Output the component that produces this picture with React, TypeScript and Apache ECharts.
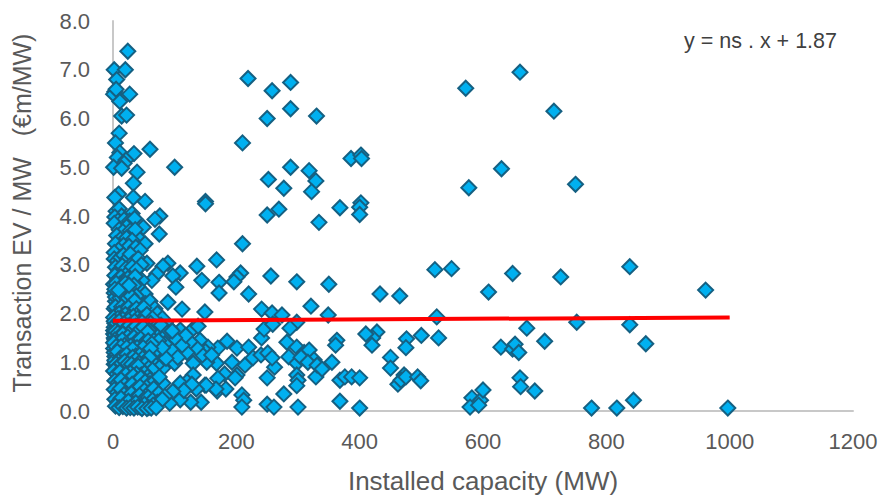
import React, { useEffect, useRef } from "react";
import * as echarts from "echarts";

const xTitle = "Installed capacity (MW)";
const yTitle = "Transaction EV / MW   (€m/MW)";
const equation = "y = ns . x + 1.87";
const trend = [[0, 1.85], [1000, 1.92]];

const highLeft = [
  [24,7.38],[2,7.0],[20,7.0],[6,6.8],[3,6.55],[1,6.5],[27,6.5],[5,6.6],[11,6.35],[14,6.05],[22,6.07],[10,5.7],[4,5.5],[60,5.37],[34,5.28],[11,5.3],[7,5.2],[21,5.15],[18,5.08],[1,5.0],[14,4.98],[100,5.0],[39,4.9],[33,4.67],[9,4.45],[3,4.38],[33,4.38],[52,4.3],[150,4.3],[150,4.25],
  [31,4.05],[49,3.77],[76,4.0],[68,3.93],[75,3.63],[41,3.55],[52,3.43],[5,4.1],[10,4.15],[14,4.0],[3,3.98],[8,3.9],[13,3.85],[18,3.92],[2,3.85],[27,3.9],[35,3.95],[22,3.78],[10,3.72],[16,3.68],[28,3.7],[36,3.72],[6,3.6],[12,3.52],[22,3.55],[31,3.5],[4,3.43],[17,3.4],[26,3.38],[37,3.36],[44,3.3],[9,3.3],[2,3.25]
];

const highField = [
  [219,6.82],[288,6.74],[258,6.57],[288,6.2],[250,6.0],[330,6.05],[210,5.5],[572,6.62],[660,6.95],[715,6.15],[288,5.0],[252,4.75],[277,4.57],[318,4.93],[329,4.72],[322,4.5],[386,5.18],[402,5.25],[403,5.18],[577,4.58],[630,4.97],[750,4.65],[368,4.17],[402,4.27],[400,4.18],[400,4.03],[334,3.87],[269,4.14],[250,4.02],[210,3.43]
];

const midField = [
  [168,3.1],[136,2.97],[89,3.03],[81,2.97],[109,2.83],[97,2.77],[144,2.68],[172,2.64],[207,2.83],[201,2.75],[196,2.65],[256,2.77],[298,2.65],[350,2.6],[102,2.54],[172,2.42],[220,2.4],[89,2.23],[112,2.09],[149,2.03],[241,2.09],[258,2.01],[274,1.97],[433,2.4],[465,2.36],[522,2.9],[549,2.92],[609,2.44],[648,2.82],[726,2.75],[838,2.96],[961,2.48],[752,1.82],[838,1.77],[864,1.38],[525,1.93],[528,1.5],[500,1.55],[476,1.48],[475,1.3],[428,1.62],[421,1.5],[420,1.35],[410,1.58],[363,1.45],[361,1.35],[355,1.0],[321,2.15],[349,1.97],[298,1.82],[629,1.31],[648,1.27],[652,1.37],[658,1.2],[671,1.7],[700,1.43],[450,1.1],[450,0.88],
  [185,1.43],[201,1.29],[220,1.31],[214,0.94],[227,1.09],[240,1.15],[251,1.19],[262,0.9],[258,1.09],[282,1.41],[298,1.31],[285,1.11],[298,0.98],[241,1.5],[245,1.68],[259,1.78],[287,1.7],[170,1.29],[154,1.31],[141,1.45],[128,1.66],[138,1.74],[109,1.66],[193,1.0],[168,0.98],[152,1.0],[130,0.98],[100,0.98],[81,0.88],[310,1.2],[318,1.25],[326,1.05],[305,1.1],[316,1.0],[150,1.22],[145,1.15],[135,1.3],[125,1.42],[160,1.15],[120,1.2],[112,1.35],[118,1.55],[100,1.5],[92,1.7],[85,1.82],[75,1.95],[65,2.05],[95,1.25],[105,1.1]
];

const lowField = [
  [201,0.74],[181,0.76],[170,0.67],[149,0.53],[130,0.74],[120,0.6],[109,0.57],[81,0.57],[169,0.41],[250,0.68],[209,0.33],[212,0.22],[209,0.08],[143,0.18],[126,0.18],[109,0.23],[92,0.16],[277,0.35],[250,0.14],[261,0.08],[300,0.08],[298,0.74],[300,0.63],[298,0.52],[329,0.7],[331,0.94],[339,0.86],[368,0.63],[376,0.7],[387,0.7],[400,0.68],[368,0.2],[400,0.06],[472,0.74],[462,0.55],[467,0.63],[475,0.7],[494,0.7],[499,0.62],[582,0.27],[579,0.08],[596,0.22],[593,0.12],[600,0.43],[660,0.68],[661,0.5],[684,0.41],[776,0.06],[817,0.06],[844,0.22],[997,0.06],[183,0.45],[198,0.68],[167,0.45],[151,0.53],[135,0.45],[128,0.55],[115,0.42],[97,0.4]
];

const denseUpper = [
  [2,3.12],[7,3.08],[12,3.15],[17,3.2],[23,3.12],[28,3.22],[33,3.05],[41,3.13],[55,3.03],[46,3.0],[4,2.95],[9,2.88],[15,2.98],[21,2.92],[26,2.86],[31,2.96],[38,2.9],[71,2.81],[63,2.68],[47,2.68],[41,2.54],[52,2.4],[3,2.78],[8,2.7],[13,2.75],[18,2.68],[24,2.72],[30,2.66],[36,2.76],[1,2.6],[6,2.55],[11,2.6],[16,2.5],[22,2.55],[28,2.48],[34,2.58],[2,2.42],[8,2.38],[13,2.44],[19,2.34],[25,2.4],[31,2.3],[38,2.36],[4,2.25],[10,2.2],[15,2.28],[21,2.16],[27,2.22],[33,2.12],[40,2.2],[46,2.12],[53,2.2],[60,2.25],[68,2.1],[2,2.1],[7,2.05],[12,2.1],[17,2.0],[23,2.05],[29,1.96],[36,2.02],[43,1.95],[50,2.02],[57,1.92],[72,2.0],[80,1.9]
];

const denseUpperExtra = [
  [4,2.34],[11,2.32],[17,2.4],[23,2.3],[29,2.36],[35,2.26],[5,2.62],[14,2.56],[20,2.62],[26,2.58],[3,2.5],[9,2.48],[4,2.14],[14,2.14],[19,2.08],[25,2.12],[31,2.04],[38,2.1],[44,2.04],[50,2.12],[6,1.98],[10,2.0],[15,1.94],[20,1.98],[26,1.92],[33,1.94],[40,1.9],[48,1.9],[55,1.98],[64,1.9]
];

const denseCore = [
  [1,1.92],[4,1.85],[8,1.9],[12,1.82],[16,1.88],[20,1.8],[25,1.86],[30,1.78],[35,1.84],[41,1.76],[47,1.82],[54,1.74],[61,1.8],[69,1.72],[78,1.76],[88,1.6],[96,1.64],[2,1.72],[6,1.68],[10,1.74],[14,1.65],[18,1.7],[23,1.62],[28,1.68],[33,1.6],[38,1.66],[44,1.58],[50,1.63],[57,1.55],[64,1.6],[72,1.52],[80,1.48],[1,1.58],[5,1.52],[9,1.57],[13,1.48],[17,1.54],[22,1.45],[27,1.5],[32,1.44],[37,1.49],[43,1.4],[49,1.46],[55,1.38],[62,1.42],[70,1.34],[84,1.38],[3,1.42],[7,1.38],[11,1.43],[15,1.34],[20,1.39],[25,1.31],[30,1.36],[35,1.28],[41,1.33],[47,1.26],[53,1.3],[60,1.22],[67,1.26],[76,1.18],[1,1.28],[5,1.24],[9,1.29],[13,1.2],[18,1.25],[23,1.16],[28,1.21],[33,1.13],[39,1.18],[45,1.1],[51,1.15],[58,1.06],[65,1.1],[74,1.02],[86,1.08],[3,1.12],[7,1.08],[11,1.14],[16,1.05],[21,1.1],[26,1.01],[31,1.06],[37,0.98],[43,1.02],[49,0.95],[55,0.99],[63,0.9],[71,0.94],[2,0.96],[6,0.9],[10,0.97],[15,0.88],[19,0.94],[24,0.85],[29,0.9],[35,0.82],[41,0.87],[47,0.78],[53,0.83],[60,0.74],[68,0.78]
];

const denseCoreExtra = [
  [3,1.8],[7,1.76],[11,1.71],[15,1.77],[19,1.61],[24,1.74],[29,1.56],[34,1.72],[39,1.53],[45,1.7],[51,1.52],[58,1.66],[63,1.5],[2,1.5],[6,1.44],[10,1.5],[14,1.41],[18,1.47],[23,1.37],[28,1.43],[33,1.35],[38,1.4],[44,1.33],[50,1.37],[56,1.29],[62,1.33],[68,1.42],[4,1.34],[8,1.31],[12,1.27],[16,1.31],[21,1.22],[26,1.27],[31,1.2],[36,1.23],[42,1.2],[48,1.18],[54,1.22],[60,1.14],[66,1.18],[2,1.2],[6,1.16],[10,1.21],[14,1.12],[19,1.17],[24,1.08],[29,1.13],[34,1.04],[40,1.09],[46,1.03],[52,1.07],[57,0.98],[62,1.03],[4,1.02],[8,0.98],[12,1.04],[17,0.98],[22,1.03],[27,0.95],[32,0.98],[38,0.91],[44,0.95],[50,0.88],[1,1.65],[5,1.6],[9,1.64],[13,1.58],[17,1.62],[21,1.54],[26,1.58],[31,1.52],[36,1.56],[41,1.48],[47,1.54],[53,1.45],[59,1.48],[65,1.46],[74,1.44],[3,1.56],[7,1.48],[11,1.35],[16,1.44],[20,1.3],[25,1.42],[30,1.28],[35,1.4],[40,1.26],[46,1.33],[52,1.24],[58,1.36],[64,1.32],[72,1.26],[80,1.3],[40,0.8],[46,0.86],[52,0.72],[56,0.78],[50,0.68],[57,0.66],[48,0.58],[54,0.52]
];

const denseCoreThird = [
  [2,1.84],[6,1.8],[10,1.84],[14,1.74],[18,1.79],[22,1.7],[27,1.76],[32,1.68],[37,1.74],[43,1.66],[49,1.72],[56,1.62],[4,1.64],[8,1.6],[12,1.55],[16,1.58],[20,1.48],[24,1.52],[29,1.46],[34,1.51],[39,1.44],[45,1.48],[51,1.4],[57,1.44],[63,1.38],[3,1.46],[7,1.42],[11,1.39],[15,1.46],[19,1.35],[24,1.28],[29,1.33],[34,1.24],[39,1.3],[44,1.24],[49,1.3],[55,1.17],[61,1.28],[1,1.4],[5,1.32],[9,1.25],[13,1.32],[17,1.18],[22,1.3],[27,1.16],[32,1.27],[37,1.13],[43,1.15],[48,1.08],[53,1.02],[59,1.1],[3,1.04],[7,1.22],[12,1.09],[17,1.12],[22,1.16],[27,1.06],[32,1.1],[37,1.05],[42,0.98],[47,0.92],[52,0.96],[58,0.88],[64,0.84],[5,0.97],[9,0.92],[14,0.98],[19,1.02],[24,0.97],[30,0.96],[35,0.9],[41,0.92],[46,0.74],[51,0.78],[56,0.7],[60,0.64],[44,0.72],[38,0.76],[33,0.64],[28,0.78]
];

const denseLow = [
  [1,0.82],[6,0.76],[11,0.8],[16,0.7],[21,0.75],[27,0.66],[33,0.72],[39,0.62],[45,0.68],[52,0.6],[60,0.56],[68,0.62],[75,0.7],[3,0.62],[8,0.58],[13,0.64],[19,0.54],[25,0.48],[31,0.55],[37,0.45],[44,0.5],[51,0.42],[59,0.38],[66,0.46],[74,0.36],[84,0.3],[2,0.44],[7,0.38],[12,0.46],[18,0.34],[24,0.28],[30,0.36],[36,0.26],[43,0.32],[50,0.24],[57,0.28],[64,0.22],[72,0.18],[80,0.24],[3,0.24],[8,0.18],[13,0.26],[19,0.14],[25,0.2],[31,0.1],[37,0.17],[44,0.08],[51,0.14],[58,0.07],[65,0.12],[4,0.1],[10,0.07],[16,0.09],[22,0.06],[28,0.07],[34,0.06],[40,0.08],[47,0.05],[55,0.05],[62,0.06],[70,0.07]
];

const points = [...highLeft, ...highField, ...midField, ...lowField, ...denseUpper, ...denseUpperExtra, ...denseCore, ...denseCoreExtra, ...denseCoreThird, ...denseLow];

const font = "'Liberation Sans', Arial, sans-serif";

export default function App() {
  const ref = useRef<HTMLDivElement>(null);
  useEffect(() => {
    const chart = echarts.init(ref.current!, undefined, { renderer: "svg" });
    chart.setOption({
      animation: false,
      backgroundColor: "#fff",
      grid: { left: 113, right: 29, top: 21, bottom: 85, containLabel: false, outerBoundsMode: "none" },
      xAxis: {
        type: "value",
        min: 0,
        max: 1200,
        interval: 200,
        name: xTitle,
        nameLocation: "middle",
        nameGap: 57,
        nameTextStyle: { color: "#595959", fontSize: 26, fontFamily: font },
        axisLine: { onZero: false, lineStyle: { color: "#C8C8C8", width: 2 } },
        axisTick: { show: false },
        splitLine: { show: false },
        axisLabel: {
          color: "#595959",
          fontSize: 22,
          fontFamily: font,
          margin: 19,
          formatter: (v: number) => String(v),
        },
      },
      yAxis: {
        type: "value",
        min: 0,
        max: 8,
        interval: 1,
        name: yTitle,
        nameLocation: "middle",
        nameGap: 79,
        nameTextStyle: { color: "#595959", fontSize: 25, fontFamily: font, padding: [0, 0, 0, 6] },
        axisLine: { show: true, onZero: false, lineStyle: { color: "#C8C8C8", width: 2 } },
        axisTick: { show: false },
        splitLine: { show: false },
        axisLabel: {
          color: "#595959",
          fontSize: 22,
          fontFamily: font,
          margin: 23,
          formatter: (v: number) => v.toFixed(1),
        },
      },
      graphic: [
        {
          type: "text",
          left: 684,
          top: 30,
          style: { text: equation, fill: "#404040", fontSize: 21.5, fontFamily: font },
        },
      ],
      series: [
        {
          type: "scatter",
          data: points,
          symbol: "diamond",
          symbolSize: 15,
          clip: false,
          itemStyle: { color: "#00B0F0", borderColor: "#156082", borderWidth: 2, opacity: 1 },
          z: 2,
        },
        {
          type: "line",
          data: trend,
          symbol: "none",
          lineStyle: { color: "#FF0000", width: 4 },
          z: 3,
        },
      ],
    });
    return () => chart.dispose();
  }, []);
  return <div ref={ref} style={{ position: "fixed", left: 0, top: 0, width: 882, height: 496 }} />;
}
